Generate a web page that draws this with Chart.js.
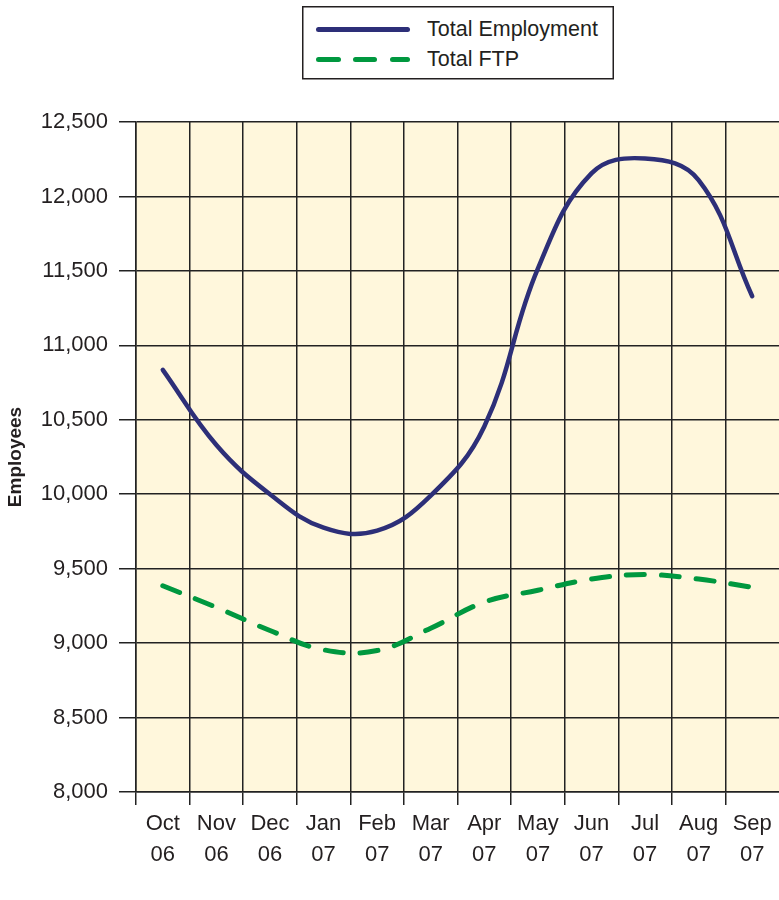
<!DOCTYPE html>
<html>
<head>
<meta charset="utf-8">
<script src="https://cdn.jsdelivr.net/npm/chart.js@4"></script>
<style>
  body { margin: 0; background: #fff; }
  #wrap { position: relative; width: 779px; height: 900px; overflow: hidden; }
  #legend { position: absolute; left: 0; top: 0; }
</style>
</head>
<body>
<div id="wrap">
  <canvas id="myChart" width="779" height="900"></canvas>
  <svg id="legend" width="779" height="90">
    <rect x="302.75" y="6.75" width="310.5" height="72" fill="#fff" stroke="#231f20" stroke-width="1.5"/>
    <line x1="318.5" y1="29.5" x2="407.5" y2="29.5" stroke="#2d2f78" stroke-width="5" stroke-linecap="round"/>
    <line x1="318.5" y1="59.5" x2="338.5" y2="59.5" stroke="#00983f" stroke-width="5" stroke-linecap="round"/>
    <line x1="355.5" y1="59.5" x2="374.5" y2="59.5" stroke="#00983f" stroke-width="5" stroke-linecap="round"/>
    <line x1="392.5" y1="59.5" x2="407.5" y2="59.5" stroke="#00983f" stroke-width="5" stroke-linecap="round"/>
    <text x="427" y="36" font-family="'Liberation Sans', sans-serif" font-size="21.5" fill="#231f20">Total Employment</text>
    <text x="427" y="66" font-family="'Liberation Sans', sans-serif" font-size="21.5" fill="#231f20">Total FTP</text>
  </svg>
</div>
<script>
'use strict';

// data
let months = ['Oct', 'Nov', 'Dec', 'Jan', 'Feb', 'Mar', 'Apr', 'May', 'Jun', 'Jul', 'Aug', 'Sep'];
let years = ['06', '06', '06', '07', '07', '07', '07', '07', '07', '07', '07', '07'];
let totalEmployment = [10835, 10330, 10000, 9775, 9755, 9990, 10455, 11515, 12155, 12255, 12110, 11330];
let totalFTP = [9385, 9240, 9085, 8955, 8950, 9100, 9275, 9355, 9430, 9460, 9430, 9375];
let yTicks = [8000, 8500, 9000, 9500, 10000, 10500, 11000, 11500, 12000, 12500];

let fontFamily = "'Liberation Sans', sans-serif";
let inkColor = '#231f20';

let labels = [];
for (let i = 0; i < months.length; i++) {
  labels.push([months[i], years[i]]);
}

// fill the plot area with the cream colour
let plotBackground = {
  id: 'plotBackground',
  beforeDraw(chart) {
    let area = chart.chartArea;
    let ctx = chart.ctx;
    ctx.save();
    ctx.fillStyle = '#fff7dc';
    ctx.fillRect(area.left, area.top, area.right - area.left, area.bottom - area.top);
    ctx.restore();
  }
};

let chartObject = {
  type: 'line',
  data: {
    labels: labels,
    datasets: [{
      label: 'Total Employment',
      data: totalEmployment,
      borderColor: '#2d2f78',
      borderWidth: 4.5,
      borderCapStyle: 'round',
      pointRadius: 0,
      tension: 0.4
    },
    {
      label: 'Total FTP',
      data: totalFTP,
      borderColor: '#00983f',
      borderWidth: 5,
      borderDash: [18, 17],
      borderCapStyle: 'round',
      pointRadius: 0,
      tension: 0.4
    }]
  },
  options: {
    responsive: false,
    animation: false,
    layout: {
      autoPadding: false,
      // plot runs just past the right edge, like the original
      padding: { top: 122, right: -2, bottom: 0, left: 0 }
    },
    plugins: {
      legend: { display: false },
      tooltip: { enabled: false }
    },
    scales: {
      x: {
        offset: true,
        grid: {
          offset: true,
          // the extra line on the far right has no tick, hide it
          color: (c) => c.tick ? '#222' : 'rgba(0,0,0,0)',
          lineWidth: 1.5,
          tickLength: 13
        },
        border: { color: '#222', width: 1.5 },
        ticks: {
          color: inkColor,
          autoSkip: false,
          maxRotation: 0,
          padding: 3,
          font: { family: fontFamily, size: 22, lineHeight: 1.41 }
        },
        afterFit(scale) {
          scale.height = 108;
          scale.paddingLeft = 0;
          scale.paddingRight = 0;
        }
      },
      y: {
        min: 8000,
        max: 12500,
        grid: {
          color: '#222',
          lineWidth: 1.5,
          tickLength: 17
        },
        border: { color: '#222', width: 1.5 },
        ticks: {
          color: inkColor,
          padding: 11,
          font: { family: fontFamily, size: 22 },
          callback: function (value) {
            return value.toLocaleString('en-US');
          }
        },
        afterBuildTicks(scale) {
          scale.ticks = yTicks.map(v => ({ value: v }));
        },
        title: {
          display: true,
          text: 'Employees',
          color: inkColor,
          padding: { top: 4, bottom: 0 },
          font: { family: fontFamily, size: 19, weight: 'bold' }
        },
        afterFit(scale) {
          scale.width = 136;
        }
      }
    }
  },
  plugins: [plotBackground]
};

let ctx = document.getElementById('myChart').getContext('2d');
let myChart = new Chart(ctx, chartObject);
</script>
</body>
</html>
